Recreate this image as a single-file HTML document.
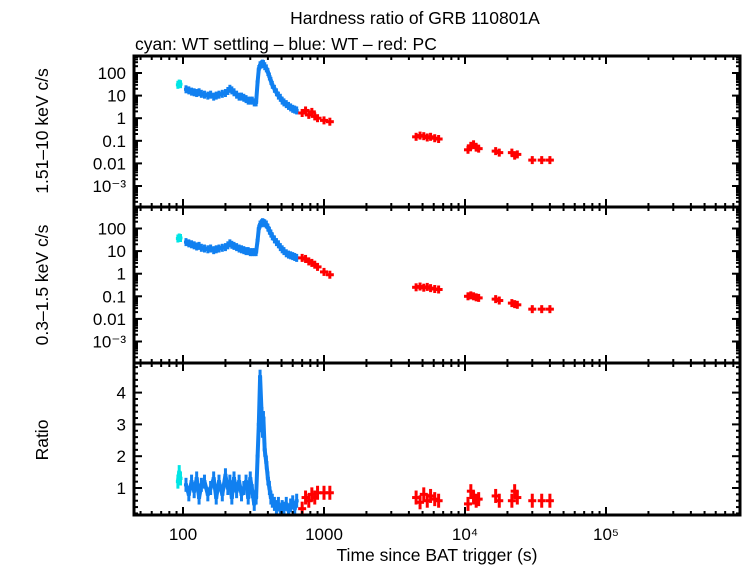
<!DOCTYPE html>
<html><head><meta charset="utf-8"><style>
body{margin:0;background:#fff}
svg text{font-family:"Liberation Sans",sans-serif;fill:#000}
</style></head><body>
<svg id="chart" width="742" height="566" xmlns="http://www.w3.org/2000/svg">
<text x="415" y="24" font-size="17.5" text-anchor="middle">Hardness ratio of GRB 110801A</text>
<text x="135" y="50" font-size="17.5">cyan: WT settling – blue: WT – red: PC</text>
<text x="437" y="561" font-size="17.5" text-anchor="middle">Time since BAT trigger (s)</text>
<text transform="translate(48,131) rotate(-90)" font-size="17.5" text-anchor="middle">1.51–10 keV c/s</text>
<text transform="translate(48,285) rotate(-90)" font-size="17.5" text-anchor="middle">0.3–1.5 keV c/s</text>
<text transform="translate(48,440) rotate(-90)" font-size="17.5" text-anchor="middle">Ratio</text>
<g id="marks"></g>
<g id="axes"></g>
</svg>
<script>
const cyanT=[92,94,96];
const cyanHard=[30,34,32];
const cyanSoft=[36,40,38];
const cyanRatio=[1.2,1.5,1.3];
const blueT=[105,110,115,120,125,130,135,142,150,157,165,172,180,190,200,208,215,222,230,240,250,260,270,280,290,300,310,320,330,338,345,352,360,366,372,380,390,400,410,420,430,445,460,475,490,505,520,540,560,580,600,620,640];
const blueHard=[19,17,15,14,13,14,12,11,10,11,9,10,11,12,13,16,20,17,14,11,9,9,8,7,6,6,6,5,5,40,150,220,240,260,250,200,160,110,70,45,30,20,14,10,8,6,5,4.2,3.5,3,2.6,2.4,2.2];
const blueSoft=[25,22,20,18,16,17,14,13,12,13,11,12,13,14,15,18,22,19,17,15,13,12,11,10,10,9,9,9,9,30,100,150,170,190,180,170,150,110,80,60,45,33,25,20,15,12,10,8,7,6.5,6,5.5,5];
const blueRatio=[1.1,0.8,1.2,0.9,1.3,0.7,1.1,1.2,0.8,1.0,1.3,0.7,1.2,0.8,1.4,1.0,1.2,0.7,1.3,0.9,1.2,0.8,1.0,1.2,0.7,1.3,0.9,0.5,0.7,2.0,3.0,4.5,3.5,2.8,3.2,2.2,1.8,1.3,1.0,0.7,0.6,0.5,0.4,0.5,0.3,0.4,0.35,0.5,0.3,0.45,0.55,0.35,0.6];
const redT=[700,740,780,820,860,900,1000,1100,4500,4800,5100,5400,5700,6100,6500,10500,11000,11500,12000,12500,16500,17500,21500,22500,23500,30000,35000,40000];
const redHard=[1.7,2.2,1.4,1.9,1.2,1.0,0.8,0.7,0.15,0.17,0.16,0.14,0.15,0.13,0.12,0.04,0.06,0.07,0.05,0.045,0.035,0.03,0.03,0.022,0.025,0.014,0.014,0.014];
const redSoft=[5,4.5,3.5,3,2.5,2,1.2,0.9,0.25,0.27,0.24,0.26,0.23,0.21,0.2,0.1,0.11,0.1,0.09,0.085,0.075,0.065,0.05,0.045,0.042,0.027,0.027,0.027];
const redRatio=[0.35,0.7,0.6,0.8,0.7,0.85,0.85,0.85,0.7,0.55,0.8,0.6,0.75,0.65,0.6,0.5,0.9,0.7,0.6,0.65,0.75,0.6,0.6,0.9,0.7,0.6,0.6,0.6];
const xTickVals=[100,1000,10000,100000];
const xTickLabels=["100","1000","10⁴","10⁵"];
const logTickVals=[100,10,1,0.1,0.01,0.001];
const logTickLabels=["100","10","1","0.1","0.01","10⁻³"];
const ratioTickVals=[1,2,3,4];

const L=134,R=740;
const X=t=>183+(Math.log10(t)-2)*141;
const P=[{top:56,bot:207,y:v=>73+(2-Math.log10(v))*22.6,log:true},
         {top:207,bot:363,y:v=>228.5+(2-Math.log10(v))*22.6,log:true},
         {top:363,bot:515,y:v=>488-(v-1)*31.8,log:false}];
const NS="http://www.w3.org/2000/svg";
const marks=document.getElementById('marks'),axes=document.getElementById('axes');
function mk(tag,attrs,parent){const e=document.createElementNS(NS,tag);for(const k in attrs)e.setAttribute(k,attrs[k]);parent.appendChild(e);return e;}
const groups=[];
P.forEach((p,k)=>{
  const cp=mk('clipPath',{id:'c'+k},marks);mk('rect',{x:L,y:p.top,width:R-L,height:p.bot-p.top},cp);
  groups.push(mk('g',{'clip-path':'url(#c'+k+')'},marks));
});
function seriesIn(k,T,V,color,name,eb,connect){const p=P[k];const g=groups[k];
  if(connect){const pts=T.map((t,i)=>X(t).toFixed(1)+','+p.y(V[i]).toFixed(1)).join(' ');
  const pl=mk('polyline',{points:pts,fill:'none',stroke:color,'stroke-width':4,'stroke-linejoin':'round'},g);
  
  }
  T.forEach((t,i)=>{const x=X(t),y=p.y(V[i]);
    const r=mk('rect',{x:x-eb,y:y-1.5,width:2*eb,height:3,fill:color},g);
    
    
    const v=mk('rect',{x:x-1.5,y:y-(k==2?7:4),width:3,height:(k==2?14:8),fill:color},g);
    
    });}
const vals=[[cyanHard,blueHard,redHard],[cyanSoft,blueSoft,redSoft],[cyanRatio,blueRatio,redRatio]];
const names=['hard','soft','ratio'];
for(let k=0;k<3;k++){
  seriesIn(k,cyanT,vals[k][0],'#00e5e5','cyan-'+names[k],2,true);
  seriesIn(k,blueT,vals[k][1],'#1180f0','blue-'+names[k],2,true);
  seriesIn(k,redT,vals[k][2],'#ff0000','red-'+names[k],4,false);
}
function line(x1,y1,x2,y2,w){mk('line',{x1,y1,x2,y2,stroke:'#000','stroke-width':w},axes);}
P.forEach((p,k)=>{
  const fr=mk('rect',{x:L,y:p.top,width:R-L,height:p.bot-p.top,fill:'none',stroke:'#000','stroke-width':3},axes);
  
  
  for(let d=1;d<=6;d++)for(let m=1;m<10;m++){const t=m*Math.pow(10,d);const x=X(t);if(x<=L||x>=R)continue;
    const len=m===1?8:4;line(x,p.top,x,p.top+len,2);line(x,p.bot,x,p.bot-len,2);}
  if(p.log){
    for(let d=-5;d<4;d++)for(let m=1;m<10;m++){const y=p.y(m*Math.pow(10,d));if(y<=p.top||y>=p.bot)continue;
      const len=m===1?8:4;line(L,y,L+len,y,2);line(R,y,R-len,y,2);}
    logTickVals.forEach((v,i)=>{const t=mk('text',{x:L-8,y:p.y(v)+6,'font-size':17,'text-anchor':'end'},axes);t.textContent=logTickLabels[i];
      
      });
  }else{
    for(let v=0.2;v<5;v+=0.2){const y=p.y(v);if(y<=p.top||y>=p.bot)continue;const maj=Math.abs(v-Math.round(v))<0.01;
      const len=maj?8:4;line(L,y,L+len,y,2);line(R,y,R-len,y,2);}
    ratioTickVals.forEach(v=>{const t=mk('text',{x:L-8,y:p.y(v)+6,'font-size':17,'text-anchor':'end'},axes);t.textContent=String(v);
      
      });
  }
});
xTickVals.forEach((v,i)=>{const t=mk('text',{x:X(v),y:540,'font-size':17,'text-anchor':'middle'},axes);t.textContent=xTickLabels[i];
  
  });
</script>
</body></html>
